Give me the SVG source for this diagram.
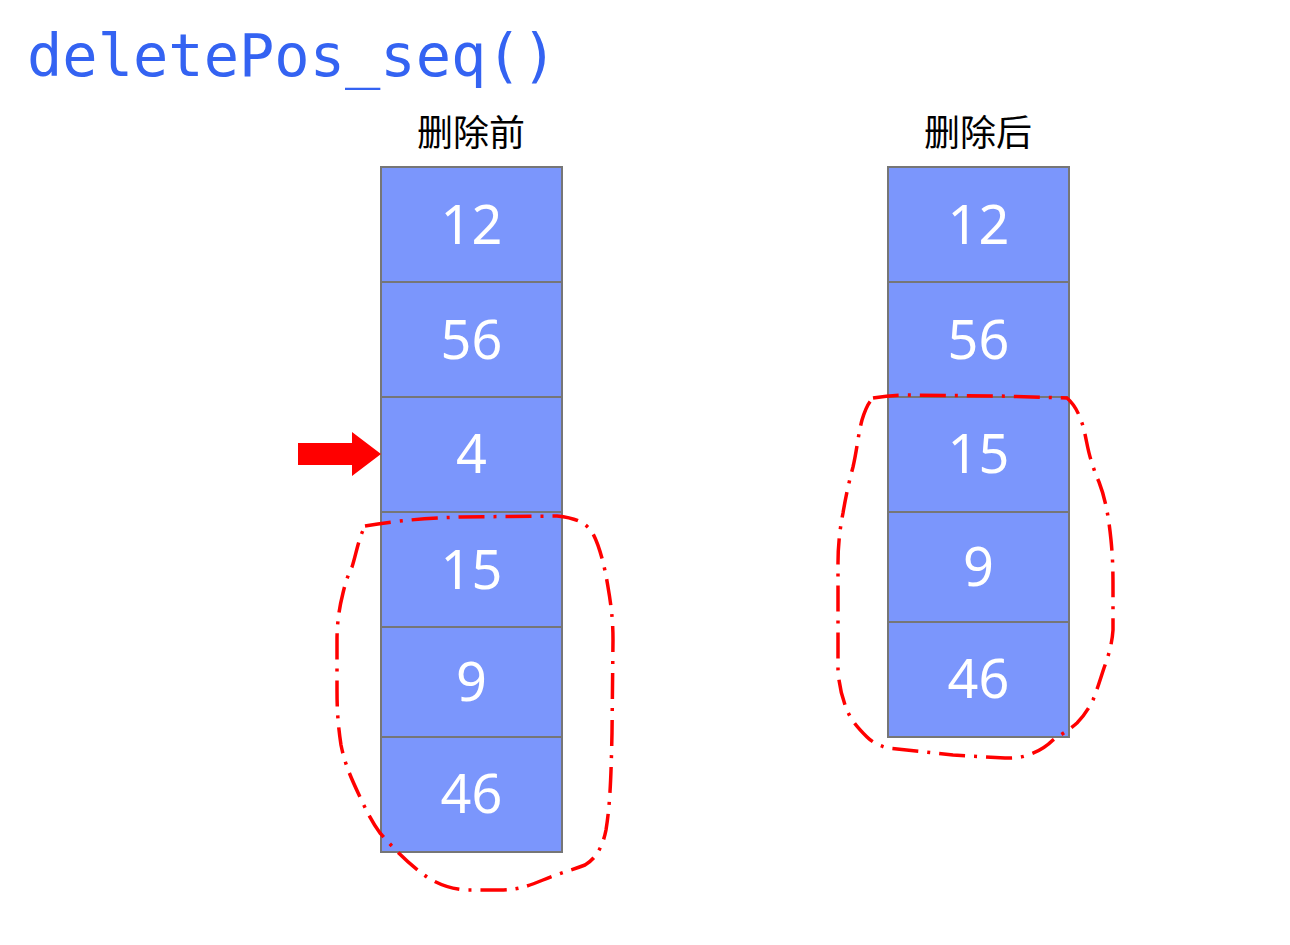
<svg xmlns="http://www.w3.org/2000/svg" width="1290" height="945" viewBox="0 0 1290 945">
<style>
.cell{fill:#7b96fc;stroke:#767676;stroke-width:2}
.num{font-family:"Noto Sans","Open Sans",sans-serif;font-size:54px;fill:#fff;text-anchor:middle}
.lbl{font-family:"Noto Sans CJK SC",sans-serif;font-size:36px;fill:#000;text-anchor:middle}
.loop{fill:none;stroke:#ff0000;stroke-width:3.5;stroke-dasharray:26 9 3 9;stroke-linejoin:round;stroke-linecap:butt}
</style>
<rect width="1290" height="945" fill="#fff"/>
<text x="27" y="76" font-family="DejaVu Sans Mono,monospace" font-size="58" fill="#3463f2" textLength="530" lengthAdjust="spacingAndGlyphs">deletePos_seq()</text>
<text class="lbl" x="471" y="146">删除前</text>
<text class="lbl" x="978" y="146">删除后</text>
<g id="before">
<g id="b0"><rect class="cell" x="381" y="167" width="181" height="115"/><text class="num" x="471.5" y="244">12</text></g>
<g id="b1"><rect class="cell" x="381" y="282" width="181" height="115"/><text class="num" x="471.5" y="359">56</text></g>
<g id="b2"><rect class="cell" x="381" y="397" width="181" height="115"/><text class="num" x="471.5" y="473">4</text></g>
<g id="b3"><rect class="cell" x="381" y="512" width="181" height="115"/><text class="num" x="471.5" y="589">15</text></g>
<g id="b4"><rect class="cell" x="381" y="627" width="181" height="110"/><text class="num" x="471.5" y="701">9</text></g>
<g id="b5"><rect class="cell" x="381" y="737" width="181" height="115"/><text class="num" x="471.5" y="813">46</text></g>
</g>
<g id="after">
<g id="a0"><rect class="cell" x="888" y="167" width="181" height="115"/><text class="num" x="978.5" y="244">12</text></g>
<g id="a1"><rect class="cell" x="888" y="282" width="181" height="115"/><text class="num" x="978.5" y="359">56</text></g>
<g id="a2"><rect class="cell" x="888" y="397" width="181" height="115"/><text class="num" x="978.5" y="473">15</text></g>
<g id="a3"><rect class="cell" x="888" y="512" width="181" height="110"/><text class="num" x="978.5" y="586">9</text></g>
<g id="a4"><rect class="cell" x="888" y="622" width="181" height="115"/><text class="num" x="978.5" y="698">46</text></g>
</g>
<g id="connectors">
<path id="pointer" d="M298 443 H352 V432 L381 454 L352 476 V465 H298 Z" fill="#ff0000"/>
<path class="loop" d="M365 526 C400 520 430 518 460 517 L557 516 C575 518 585 522 592 532 C598 542 604 562 608 587 C612 610 613 625 613 640 L612 733 C611 780 610 805 606 830 C603 845 597 858 585 865 C572 870 560 873 543 880 C528 886 518 890 500 890 L467 890 C450 889 438 884 427 877 C410 865 395 850 380 833 C372 822 366 810 360 797 C352 780 345 765 341 745 C338 725 337 710 337 690 L337 640 C337 620 340 605 343 593 C346 580 349 573 352 567 C356 555 358 540 365 526 Z"/>
<path class="loop" d="M873 398 C885 396 895 395 907 395 L1000 396 L1067 398 C1075 405 1078 412 1082 423 C1086 435 1087 448 1091 460 C1094 470 1096 475 1099 482 C1106 500 1109 520 1111 540 C1113 560 1113 575 1113 590 L1113 630 C1112 645 1108 657 1104 668 C1100 680 1097 690 1093 700 C1088 710 1083 717 1077 723 C1068 731 1060 735 1053 740 C1045 748 1037 752 1028 755 C1020 758 1013 758 1005 758 L953 755 L887 748 C878 745 872 742 867 737 C858 728 851 720 847 710 C842 698 839 685 838 670 L838 563 C838 545 840 528 843 513 C846 495 849 482 853 467 C857 450 858 435 862 420 C865 410 868 403 873 398 Z"/>
</g>
</svg>
